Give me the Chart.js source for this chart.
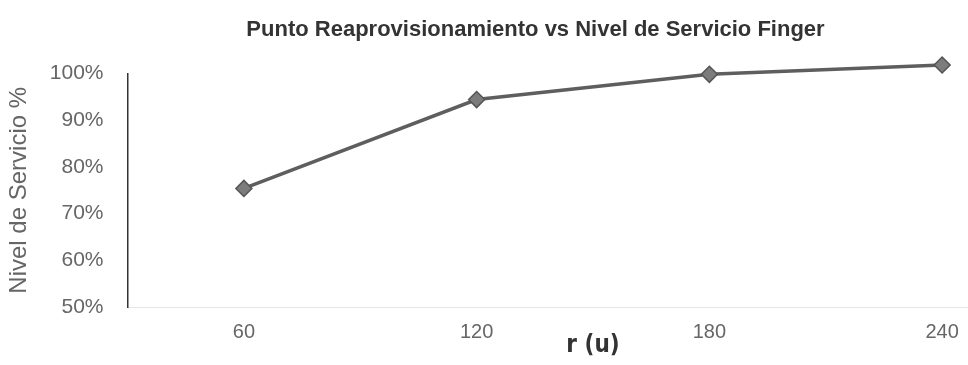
<!DOCTYPE html>
<html>
<head>
<meta charset="utf-8">
<script src="https://cdn.jsdelivr.net/npm/chart.js@4/dist/chart.umd.min.js"></script>
<style>
  html, body { margin: 0; padding: 0; background: #fff; overflow: hidden; }
  #wrap { width: 1068px; height: 365px; }
</style>
</head>
<body>
<div id="wrap"><canvas id="nivelChart" width="1068" height="365"></canvas></div>
<script>
// punto de reaprovisionamiento r (u)
var categories = ['60', '120', '180', '240'];
// nivel de servicio en %
var nivelServicio = [75.4, 94.4, 99.8, 101.8];
var yTicks = [50, 60, 70, 80, 90, 100];

document.addEventListener('DOMContentLoaded', function () {

    var chart = new Chart(document.getElementById('nivelChart'), {
        type: 'line',
        data: {
            labels: categories,
            datasets: [{
                label: 'Nivel de Servicio',
                data: nivelServicio,
                borderColor: '#5e5e5e',
                borderWidth: 3.5,
                tension: 0,
                pointStyle: 'rectRot',
                pointRadius: 8,
                pointHoverRadius: 8,
                pointBackgroundColor: '#7c7c7c',
                pointBorderColor: '#555',
                pointBorderWidth: 1.5,
                clip: false
            }]
        },
        options: {
            responsive: false,
            devicePixelRatio: 1,
            animation: false,
            layout: { padding: { left: 5, right: 2, top: 0, bottom: 2 } },
            plugins: {
                legend: { display: false },
                tooltip: { enabled: false },
                title: {
                    display: true,
                    text: 'Punto Reaprovisionamiento vs Nivel de Servicio Finger',
                    color: '#333',
                    font: { family: 'Liberation Sans', size: 22, weight: 'bold' },
                    padding: { top: 17, bottom: 30 }
                }
            },
            scales: {
                x: {
                    type: 'category',
                    offset: true,
                    grid: { display: true, drawOnChartArea: false, drawTicks: false },
                    border: { display: true, color: '#e6e6e6', width: 1, dash: [2, 5] },
                    ticks: {
                        color: '#666',
                        padding: 13,
                        maxRotation: 0,
                        font: { family: 'Liberation Sans', size: 20 }
                    },
                    title: {
                        display: true,
                        text: 'r (u)',
                        color: '#333',
                        padding: { top: -26, bottom: 3 },
                        font: { family: "'Liberation Sans Narrow', 'DejaVu Sans Condensed', 'Liberation Sans', sans-serif", size: 24, weight: 'bold' }
                    }
                },
                y: {
                    min: 50,
                    max: 100,
                    afterBuildTicks: function (axis) {
                        axis.ticks = yTicks.map(function (v) { return { value: v }; });
                    },
                    grid: { display: true, drawOnChartArea: false, drawTicks: false },
                    border: { display: true, color: '#333', width: 1.5 },
                    ticks: {
                        color: '#666',
                        padding: 24,
                        font: { family: 'Liberation Sans', size: 21 },
                        callback: function (v) { return v + '%'; }
                    },
                    title: {
                        display: true,
                        text: 'Nivel de Servicio %',
                        color: '#666',
                        padding: { top: 0, bottom: -8 },
                        font: { family: 'Liberation Sans', size: 24 }
                    }
                }
            }
        }
    });
});
</script>
</body>
</html>
